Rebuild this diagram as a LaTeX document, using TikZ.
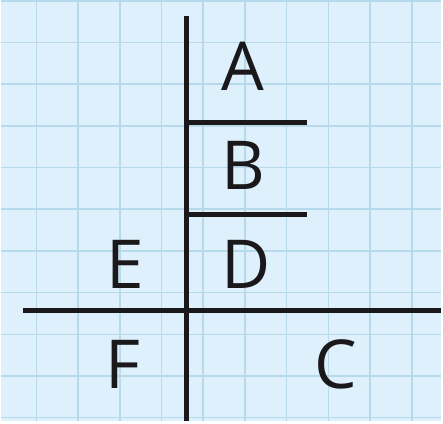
\documentclass[tikz,border=0pt]{standalone}
\usepackage{fontspec}
\setmainfont{Open Sans}
\definecolor{paper}{RGB}{222,240,251}
\definecolor{gridblue}{RGB}{182,218,236}
\definecolor{ink}{RGB}{26,24,26}
\tikzset{
  gridline/.style={gridblue,line width=1.6pt},
  bar/.style={ink,line width=5pt},
  letter/.style={inner sep=0pt,text=ink,font=\fontsize{68}{68}\selectfont}
}
\begin{document}
\begin{tikzpicture}[x=1pt,y=-1pt]
    \fill[paper] (0,0) rectangle (443,423);
    \foreach \x in {36,78,...,414}
      \draw[gridline] (\x,0) -- (\x,423);
    \foreach \y in {0,42,...,420}
      \draw[gridline] (0,\y) -- (443,\y);
    % the cross
    \coordinate (top) at (187,15);
    \coordinate (bot) at (187,423);
    \coordinate (lft) at (22,312);
    \coordinate (rgt) at (443,312);
    \coordinate (ab0) at (187,123);
    \coordinate (ab1) at (308,123);
    \coordinate (bd0) at (187,215);
    \coordinate (bd1) at (308,215);
    \draw[bar] (top) -- (bot);
    \draw[bar] (lft) -- (rgt);
    \draw[bar] (ab0) -- (ab1);
    \draw[bar] (bd0) -- (bd1);
    % the regions
    \node[letter] (A) at (243.5,65.5) {A};
    \node[letter] (B) at (244.5,165.5) {B};
    \node[letter] (D) at (247,266) {D};
    \node[letter] (E) at (125,266) {E};
    \node[letter] (F) at (123,366) {F};
    \node[letter] (C) at (337,366) {C};
\end{tikzpicture}
\end{document}
